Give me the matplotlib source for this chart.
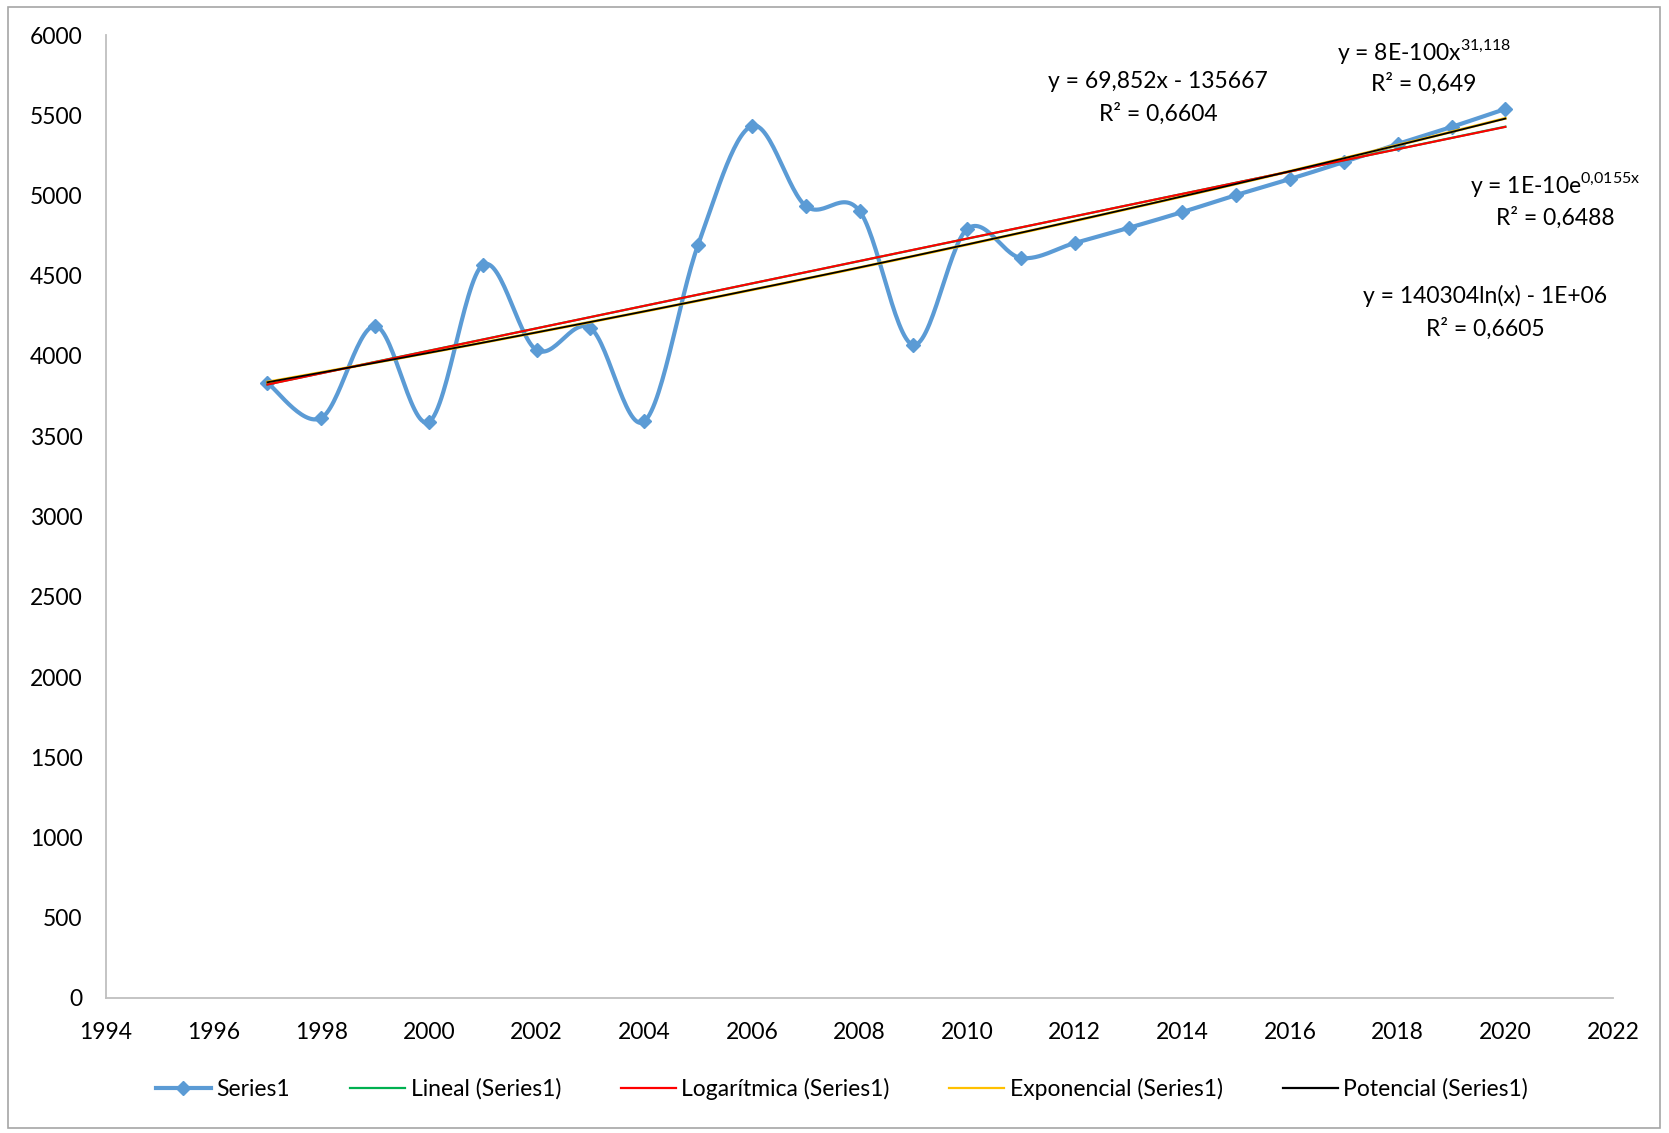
import numpy as np
import matplotlib
matplotlib.use("Agg")
import matplotlib.pyplot as plt
from matplotlib.lines import Line2D
from matplotlib.patches import Rectangle

# data
years = [1997, 1998, 1999, 2000, 2001, 2002, 2003, 2004, 2005, 2006, 2007, 2008,
         2009, 2010, 2011, 2012, 2013, 2014, 2015, 2016, 2017, 2018, 2019, 2020]
values = [3832, 3614, 4187, 3589, 4567, 4037, 4174, 3592, 4692, 5433, 4935, 4904,
          4069, 4791, 4611, 4704, 4798, 4897, 5003, 5103, 5209, 5321, 5427, 5539]
x_ticks = list(range(1994, 2023, 2))
y_ticks = list(range(0, 6001, 500))
eq_texts = [
    ("y = 69,852x - 135667", "R² = 0,6604"),
    (r"y = 8E-100x$^{\mathregular{31{,}118}}$", "R² = 0,649"),
    (r"y = 1E-10e$^{\mathregular{0{,}0155x}}$", "R² = 0,6488"),
    ("y = 140304ln(x) - 1E+06", "R² = 0,6605"),
]
legend_labels = ["Series1", "Lineal (Series1)", "Logarítmica (Series1)",
                 "Exponencial (Series1)", "Potencial (Series1)"]

plt.rcParams["font.family"] = ["Lato", "DejaVu Sans"]
plt.rcParams["mathtext.fontset"] = "custom"
plt.rcParams["mathtext.rm"] = "Lato"

W, H = 1669, 1133
fig = plt.figure(figsize=(W / 100, H / 100), dpi=100)
ax = fig.add_axes([106 / W, 1 - 998 / H, (1613 - 106) / W, (998 - 35) / H])

x = np.array(years, dtype=float)
y = np.array(values, dtype=float)


def smooth(px, py, n=30):
    # Catmull-Rom through the points, like Excel's smoothed line
    P = np.column_stack([px, py])
    P = np.vstack([P[0], P, P[-1]])
    out = []
    t = np.linspace(0, 1, n, endpoint=False)[:, None]
    for i in range(1, len(P) - 2):
        p0, p1, p2, p3 = P[i - 1], P[i], P[i + 1], P[i + 2]
        seg = 0.5 * ((2 * p1) + (-p0 + p2) * t + (2 * p0 - 5 * p1 + 4 * p2 - p3) * t ** 2
                     + (-p0 + 3 * p1 - 3 * p2 + p3) * t ** 3)
        out.append(seg)
    out.append(P[-2][None, :])
    out = np.vstack(out)
    return out[:, 0], out[:, 1]


blue = "#5B9BD5"
sx, sy = smooth(x, y)
ax.plot(sx, sy, color=blue, linewidth=3, solid_capstyle="round", zorder=3)
ax.plot(x, y, linestyle="none", marker="D", markersize=7, color=blue, zorder=4)

# trendlines fitted to the data
xf = np.linspace(x[0], x[-1], 200)
lin = np.polyfit(x, y, 1)
logf = np.polyfit(np.log(x), y, 1)
expf = np.polyfit(x, np.log(y), 1)
powf = np.polyfit(np.log(x), np.log(y), 1)

green, red, yellow, black = "#00B050", "#FF0000", "#FFC000", "#000000"
ax.plot(xf, np.polyval(lin, xf), color=green, linewidth=1.6, zorder=5)
ax.plot(xf, np.polyval(logf, np.log(xf)), color=red, linewidth=1.5, zorder=6)
ax.plot(xf, np.exp(np.polyval(expf, xf)), color=yellow, linewidth=2.0, zorder=5)
ax.plot(xf, np.exp(np.polyval(powf, np.log(xf))), color=black, linewidth=1.3, zorder=6)

ax.set_xlim(1994, 2022)
ax.set_ylim(0, 6000)
ax.set_xticks(x_ticks)
ax.set_yticks(y_ticks)
ax.tick_params(length=0, labelsize=16.5, colors="black")
ax.tick_params(axis="x", pad=17)
ax.tick_params(axis="y", pad=17)
for s in ["top", "right"]:
    ax.spines[s].set_visible(False)
for s in ["left", "bottom"]:
    ax.spines[s].set_color("#BFBFBF")
    ax.spines[s].set_linewidth(1.3)

# equation labels (pixel centers in the reference)
eq_pos = [(1158, 81, 114), (1424, 51, 84), (1555, 184, 218), (1485, 296, 329)]
for (eq, r2), (px, py1, py2) in zip(eq_texts, eq_pos):
    fig.text(px / W, 1 - py1 / H, eq, ha="center", va="center", fontsize=16.5)
    fig.text(px / W, 1 - py2 / H, r2, ha="center", va="center", fontsize=16.5)

handles = [
    Line2D([], [], color=blue, linewidth=3, marker="D", markersize=7),
    Line2D([], [], color=green, linewidth=1.6),
    Line2D([], [], color=red, linewidth=1.6),
    Line2D([], [], color=yellow, linewidth=1.6),
    Line2D([], [], color=black, linewidth=1.6),
]
fig.legend(handles, legend_labels, loc="center", ncol=5, frameon=False,
           bbox_to_anchor=(842 / W, 1 - 1089 / H), fontsize=16.5,
           handlelength=2.4, handletextpad=0.25, columnspacing=2.6)

fig.patches.append(Rectangle((8 / W, 5 / H), 1652 / W, 1121 / H, transform=fig.transFigure,
                             fill=False, edgecolor="#A6A6A6", linewidth=1.2))

fig.savefig("out.png", dpi=100)
